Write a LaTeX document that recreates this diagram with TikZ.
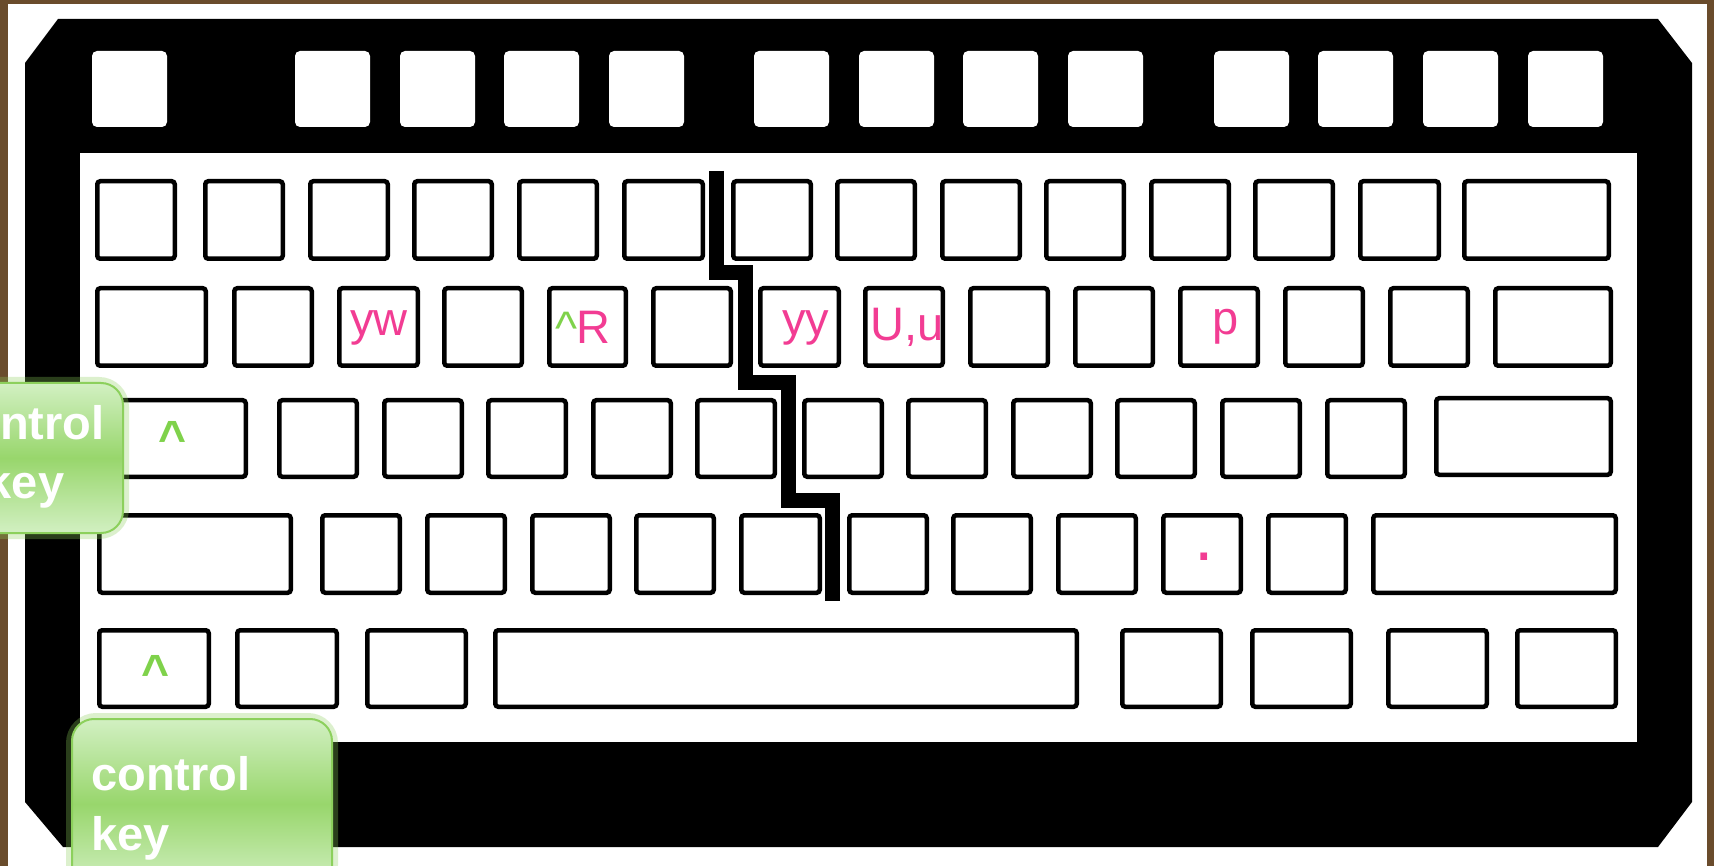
\documentclass[tikz,border=0pt]{standalone}
\usepackage{fontspec}
\setmainfont{Liberation Sans}
\definecolor{brownbg}{HTML}{6A4C2C}
\definecolor{pinklab}{HTML}{F23C93}
\definecolor{greencar}{HTML}{7FD24B}
\definecolor{bubtop}{HTML}{D2F0C2}
\definecolor{bubmid}{HTML}{98D66C}
\definecolor{bubedge}{HTML}{8CD05C}
\tikzset{
 key/.style={draw=black, line width=4.5pt, fill=white, rounded corners=3pt, inner sep=0pt, outer sep=0pt},
 fkey/.style={fill=white, rounded corners=5pt, inner sep=0pt, outer sep=0pt, draw=none},
 lab/.style={text=pinklab, font=\fontsize{47}{50}\selectfont, inner sep=0pt, anchor=base west},
 car/.style={text=greencar, font=\fontsize{48}{50}\selectfont\bfseries, inner sep=0pt, anchor=base west},
 bubtext/.style={text=white, font=\fontsize{47}{58}\selectfont\bfseries, inner sep=0pt},
 bubble/.style={rounded corners=22pt, top color=bubtop, bottom color=bubtop, middle color=bubmid, draw=bubedge, line width=2pt, inner sep=0pt, outer sep=0pt},
 glow/.style={draw=bubedge, rounded corners=24pt, line width=12pt, opacity=0.3, inner sep=0pt, outer sep=0pt},
 crack/.style={draw=black, line width=15pt, miter limit=10},
}
\newcommand\kb[5]{\node[key, minimum width={#3-#2-4.5}, minimum height={#5-#4-4.5}] (#1) at ({(#2+#3)/2},{(#4+#5)/2}) {};}
\newcommand\fk[2]{\node[fkey, minimum width=75, minimum height=76] (#1) at ({#2+37.5},89) {};}
\begin{document}
\begin{tikzpicture}[x=1pt,y=-1pt]
\useasboundingbox (0,0) rectangle (1714,866);
\clip (0,0) rectangle (1714,866);
\fill[brownbg] (0,0) rectangle (1714,866);
\fill[white] (8,4) rectangle (1707,870);
% keyboard body
\fill[black] (58,19) -- (1658,19) -- (1692,63) -- (1692,802) -- (1658,847) -- (63,847) -- (25,802) -- (25,63) -- cycle;
\fill[white] (80,153) rectangle (1637,742);
% function keys
\fk{f0}{92}\fk{f1}{295}\fk{f2}{400}\fk{f3}{504}\fk{f4}{609}
\fk{f5}{754}\fk{f6}{859}\fk{f7}{963}\fk{f8}{1068}
\fk{f9}{1214}\fk{f10}{1318}\fk{f11}{1423}\fk{f12}{1528}
% row 1
\kb{a0}{95}{177}{179}{261}
\kb{a1}{203}{285}{179}{261}
\kb{a2}{308}{390}{179}{261}
\kb{a3}{412}{494}{179}{261}
\kb{a4}{517}{599}{179}{261}
\kb{a5}{622}{705}{179}{261}
\kb{a6}{731}{813}{179}{261}
\kb{a7}{835}{917}{179}{261}
\kb{a8}{940}{1022}{179}{261}
\kb{a9}{1044}{1126}{179}{261}
\kb{a10}{1149}{1231}{179}{261}
\kb{a11}{1253}{1335}{179}{261}
\kb{a12}{1358}{1441}{179}{261}
\kb{a13}{1462}{1611}{179}{261}
% row 2
\kb{b0}{95}{208}{286}{368}
\kb{b1}{232}{314}{286}{368}
\kb{b2}{337}{420}{286}{368}
\kb{b3}{442}{524}{286}{368}
\kb{b4}{547}{628}{286}{368}
\kb{b5}{651}{733}{286}{368}
\kb{b6}{758}{841}{286}{368}
\kb{b7}{863}{945}{286}{368}
\kb{b8}{968}{1050}{286}{368}
\kb{b9}{1073}{1155}{286}{368}
\kb{b10}{1178}{1260}{286}{368}
\kb{b11}{1283}{1365}{286}{368}
\kb{b12}{1388}{1470}{286}{368}
\kb{b13}{1493}{1613}{286}{368}
% row 3
\kb{c0}{97}{248}{398}{479}
\kb{c1}{277}{359}{398}{479}
\kb{c2}{382}{464}{398}{479}
\kb{c3}{486}{568}{398}{479}
\kb{c4}{591}{673}{398}{479}
\kb{c5}{695}{777}{398}{479}
\kb{c6}{802}{884}{398}{479}
\kb{c7}{906}{988}{398}{479}
\kb{c8}{1011}{1093}{398}{479}
\kb{c9}{1115}{1197}{398}{479}
\kb{c10}{1220}{1302}{398}{479}
\kb{c11}{1325}{1407}{398}{479}
\kb{c12}{1434}{1613}{396}{477}
% row 4
\kb{d0}{97}{293}{513}{595}
\kb{d1}{320}{402}{513}{595}
\kb{d2}{425}{507}{513}{595}
\kb{d3}{530}{612}{513}{595}
\kb{d4}{634}{716}{513}{595}
\kb{d5}{739}{822}{513}{595}
\kb{d6}{847}{929}{513}{595}
\kb{d7}{951}{1033}{513}{595}
\kb{d8}{1056}{1138}{513}{595}
\kb{d9}{1161}{1243}{513}{595}
\kb{d10}{1266}{1348}{513}{595}
\kb{d11}{1371}{1618}{513}{595}
% row 5
\kb{e0}{97}{211}{628}{709}
\kb{e1}{235}{339}{628}{709}
\kb{e2}{365}{468}{628}{709}
\kb{e3}{493}{1079}{628}{709}
\kb{e4}{1120}{1223}{628}{709}
\kb{e5}{1250}{1353}{628}{709}
\kb{e6}{1386}{1489}{628}{709}
\kb{e7}{1515}{1618}{628}{709}
% crack
\draw[crack] (716.5,171) -- (716.5,272.5) -- (745.5,272.5) -- (745.5,383) -- (788.5,383) -- (788.5,500) -- (832.5,500) -- (832.5,601);
% labels
\node[lab] (lyw) at (350,336) {yw};
\node[car, font=\fontsize{47}{50}\selectfont] (lcr) at (555,345) {\textasciicircum};
\node[lab] (lR) at (576,344) {R};
\node[lab] (lyy) at (782,336) {yy};
\node[lab] (lUu) at (870,341) {U,u};
\node[lab] (lp) at (1212,335) {p};
\node[lab, font=\fontsize{70}{70}\selectfont] (ldot) at (1194,560) {.};
\node[car] (lc3) at (158,455) {\textasciicircum};
\node[car] (lc5) at (141,688) {\textasciicircum};
% bubble 1
\node[glow, minimum width=263, minimum height=150, anchor=north east] (g1) at (123,383) {};
\node[bubble, minimum width=263, minimum height=150, anchor=north east] (cb1) at (123,383) {};
\node[bubtext, anchor=base] (t1a) at (25,440) {control};
\node[bubtext, anchor=base] (t1b) at (25,498) {key};
% bubble 2
\node[glow, minimum width=260, minimum height=170, anchor=north west] (g2) at (72,719) {};
\node[bubble, minimum width=260, minimum height=170, anchor=north west] (cb2) at (72,719) {};
\node[bubtext, anchor=base west] (t2a) at (91,790) {control};
\node[bubtext, anchor=base west] (t2b) at (91,850) {key};
\end{tikzpicture}
\end{document}
